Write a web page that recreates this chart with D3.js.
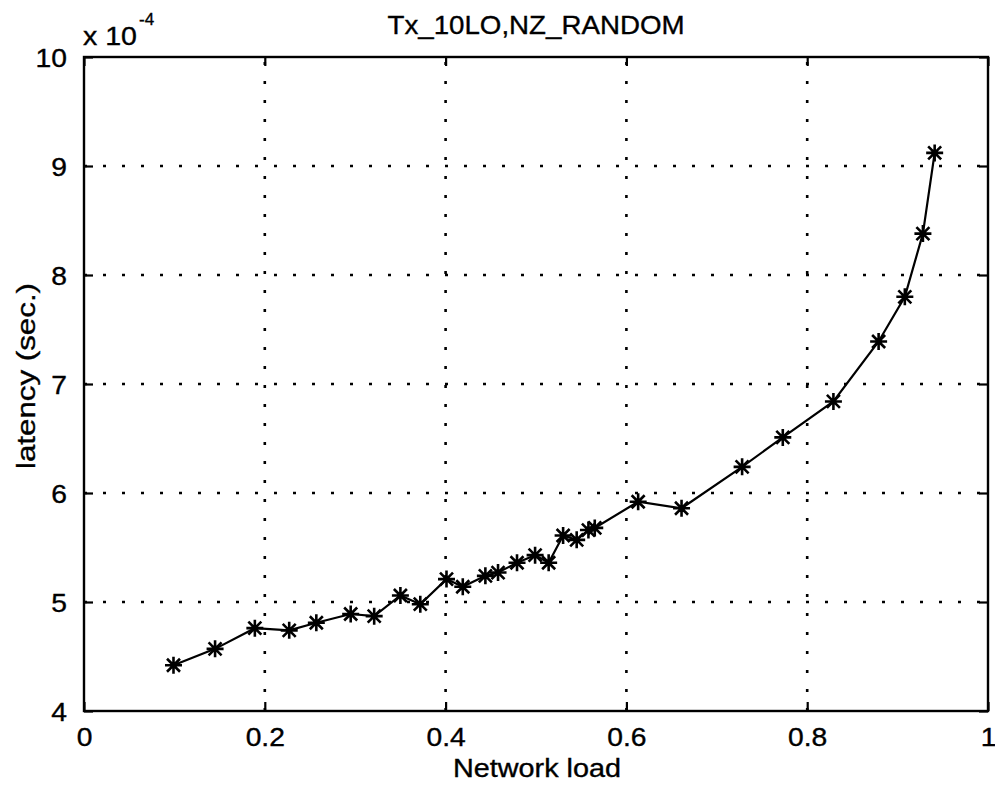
<!DOCTYPE html>
<html>
<head>
<meta charset="utf-8">
<script src="https://cdn.jsdelivr.net/npm/d3@7"></script>
<style>
  html, body { margin: 0; padding: 0; background: #fff; }
  svg { display: block; font-family: "Liberation Sans", Arial, Helvetica, sans-serif; }
  text { stroke: #000; stroke-width: 0.35px; }
</style>
</head>
<body>
<svg id="chart" width="995" height="787"></svg>
<script>
// ---- data (latency in units of 1e-4 s) ----
const networkLoad = [0.099, 0.145, 0.189, 0.227, 0.257, 0.295, 0.321, 0.350, 0.372, 0.401,
                     0.419, 0.444, 0.458, 0.479, 0.499, 0.514, 0.530, 0.545, 0.558, 0.565,
                     0.613, 0.661, 0.728, 0.773, 0.829, 0.879, 0.908, 0.928, 0.941];
const latency = [4.42, 4.57, 4.76, 4.74, 4.81, 4.89, 4.87, 5.06, 4.98, 5.21,
                 5.14, 5.24, 5.27, 5.36, 5.43, 5.36, 5.61, 5.57, 5.66, 5.68,
                 5.92, 5.86, 6.24, 6.51, 6.84, 7.39, 7.80, 8.38, 9.12];
const xTicks = [0, 0.2, 0.4, 0.6, 0.8, 1];
const xTickLabels = ["0", "0.2", "0.4", "0.6", "0.8", "1"];
const yTicks = [4, 5, 6, 7, 8, 9, 10];
const yTickLabels = ["4", "5", "6", "7", "8", "9", "10"];
const titleText = "Tx_10LO,NZ_RANDOM";
const xLabelText = "Network load";
const yLabelText = "latency (sec.)";

// ---- layout ----
const svg = d3.select("#chart");
const L = 84, R = 988, T = 57, B = 711;
const x = d3.scaleLinear().domain([0, 1]).range([L, R]);
const y = d3.scaleLinear().domain([4, 10]).range([B, T]);
const STRETCH = 1.13;

function stretchText(sel) {
  sel.each(function () {
    const n = this;
    const w = n.getComputedTextLength();
    n.setAttribute("textLength", (w * STRETCH).toFixed(2));
    n.setAttribute("lengthAdjust", "spacingAndGlyphs");
  });
}

// grid
const grid = svg.append("g").attr("stroke", "#000").attr("stroke-width", 2.6)
  .attr("stroke-dasharray", "3,16").attr("fill", "none");
grid.selectAll("line.v").data(xTicks.slice(1, -1)).join("line")
  .attr("x1", d => x(d)).attr("x2", d => x(d)).attr("y1", B).attr("y2", T);
grid.selectAll("line.h").data(yTicks.slice(1, -1)).join("line")
  .attr("y1", d => y(d)).attr("y2", d => y(d)).attr("x1", L).attr("x2", R);

// axes (MATLAB style: inward ticks on all four sides)
const fs = 25;
const xAxis = d3.axisBottom(x).tickValues(xTicks).tickFormat((d, i) => xTickLabels[i])
  .tickSizeInner(-9).tickSizeOuter(0).tickPadding(19);
const gx = svg.append("g").attr("transform", `translate(0,${B})`).call(xAxis);
const xTop = d3.axisTop(x).tickValues(xTicks).tickFormat("").tickSizeInner(-9).tickSizeOuter(0);
const gxt = svg.append("g").attr("transform", `translate(0,${T})`).call(xTop);
const yAxis = d3.axisLeft(y).tickValues(yTicks).tickFormat((d, i) => yTickLabels[i])
  .tickSizeInner(-9).tickSizeOuter(0).tickPadding(17);
const gy = svg.append("g").attr("transform", `translate(${L},0)`).call(yAxis);
const yRight = d3.axisRight(y).tickValues(yTicks).tickFormat("").tickSizeInner(-9).tickSizeOuter(0);
const gyr = svg.append("g").attr("transform", `translate(${R},0)`).call(yRight);

[gx, gxt, gy, gyr].forEach(g => {
  g.select(".domain").remove();
  g.selectAll(".tick line").attr("stroke", "#000").attr("stroke-width", 2.2);
  g.selectAll("text").attr("font-size", fs).attr("font-family", "Liberation Sans, Arial, sans-serif")
    .attr("fill", "#000");
});
gx.selectAll(".tick text").attr("dy", "0.72em").attr("y", 17);
gy.selectAll(".tick text").attr("dy", "0.36em");
stretchText(gx.selectAll(".tick text"));
stretchText(gy.selectAll(".tick text"));

// box
svg.append("rect").attr("x", L).attr("y", T).attr("width", R - L).attr("height", B - T)
  .attr("fill", "none").attr("stroke", "#000").attr("stroke-width", 2.4);

// exponent label
const ex = svg.append("text").attr("x", 83).attr("y", 45).attr("font-size", 25).attr("fill", "#000");
ex.append("tspan").text("x 10").attr("textLength", 54).attr("lengthAdjust", "spacingAndGlyphs");
ex.append("tspan").attr("font-size", 17).attr("dy", -20).attr("dx", 2).text("-4");

// title and axis labels
const title = svg.append("text").attr("x", 536).attr("y", 34)
  .attr("text-anchor", "middle").attr("font-size", 26).attr("fill", "#000").text(titleText);
title.attr("textLength", 297).attr("lengthAdjust", "spacingAndGlyphs");

svg.append("text").attr("x", 537).attr("y", 777).attr("text-anchor", "middle")
  .attr("font-size", 25).attr("fill", "#000").text(xLabelText)
  .attr("textLength", 168).attr("lengthAdjust", "spacingAndGlyphs");

svg.append("text").attr("transform", `translate(35,${376}) rotate(-90)`)
  .attr("text-anchor", "middle").attr("font-size", 25).attr("fill", "#000").text(yLabelText)
  .attr("textLength", 186).attr("lengthAdjust", "spacingAndGlyphs");

// data line
const pts = networkLoad.map((v, i) => [v, latency[i]]);
const line = d3.line().x(d => x(d[0])).y(d => y(d[1]));
svg.append("path").datum(pts).attr("d", line)
  .attr("fill", "none").attr("stroke", "#000").attr("stroke-width", 2.2);

// asterisk markers
const star = "M-8.5,0H8.5M0,-8.5V8.5M-6.5,-6.5L6.5,6.5M-6.5,6.5L6.5,-6.5";
svg.append("g").selectAll("path").data(pts).join("path")
  .attr("transform", d => `translate(${x(d[0])},${y(d[1])})`)
  .attr("d", star).attr("fill", "none").attr("stroke", "#000").attr("stroke-width", 2.6);
</script>
</body>
</html>
